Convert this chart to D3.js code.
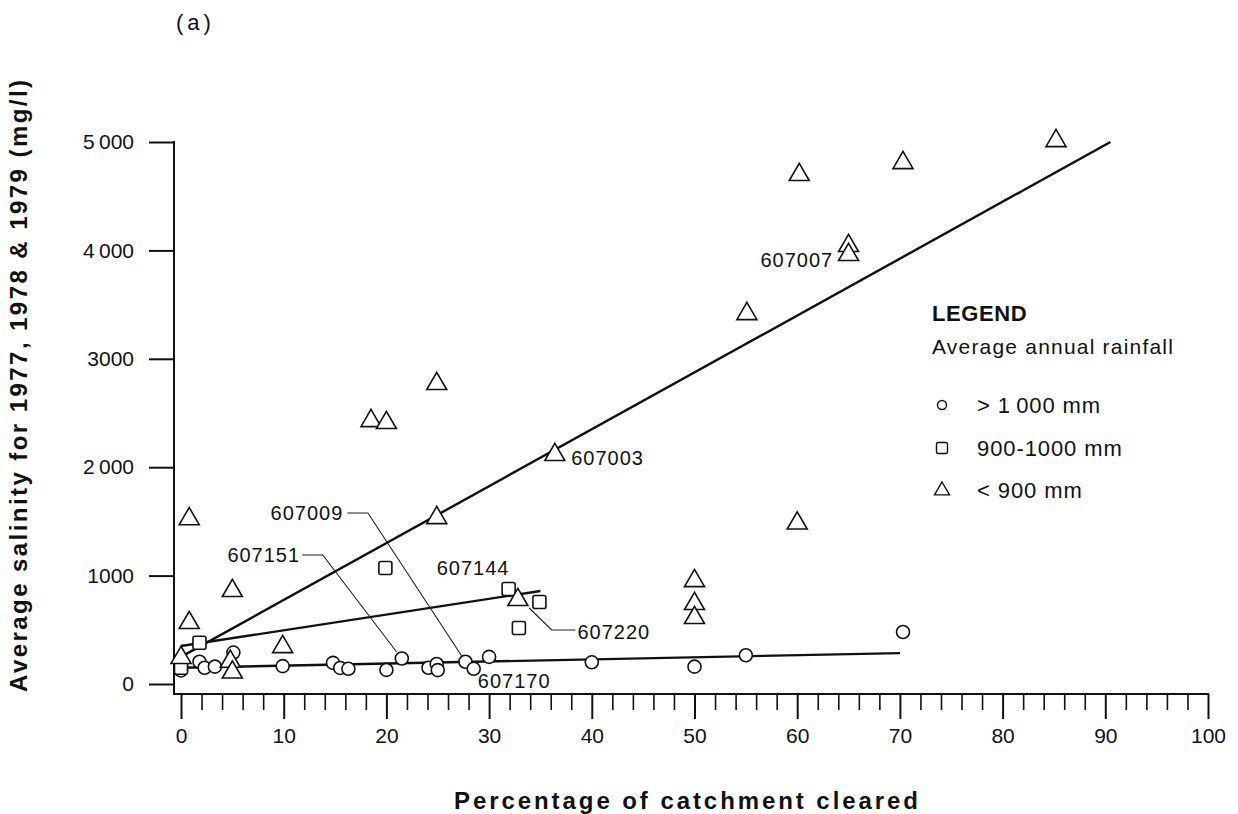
<!DOCTYPE html>
<html>
<head>
<meta charset="utf-8">
<script src="https://cdn.jsdelivr.net/npm/d3@7/dist/d3.min.js"></script>
<style>
  html, body { margin: 0; padding: 0; background: #fff; }
  svg { display: block; }
  text { font-family: "Liberation Sans", Arial, Helvetica, sans-serif; fill: #111; }
</style>
</head>
<body>
<svg id="chart" width="1238" height="814"></svg>
<script>
// Average salinity (mg/l) against percentage of catchment cleared,
// grouped by average annual rainfall.

// > 1000 mm rainfall catchments: [percent cleared, salinity]
const rainHigh = [
  [0, 175], [0, 125], [1.8, 205], [2.3, 150], [3.3, 160], [5.1, 290],
  [9.9, 165], [14.8, 195], [15.5, 148], [16.3, 140], [20.0, 130],
  [21.5, 235], [24.1, 150], [24.9, 185], [25.0, 128], [27.7, 205],
  [28.5, 140], [30.0, 250], [40.0, 200], [50.0, 160], [55.0, 265],
  [70.3, 480]
];
// 900-1000 mm rainfall catchments
const rainMid = [
  [0, 150], [1.8, 380], [19.9, 1070], [31.9, 876], [34.9, 756], [32.9, 516]
];
// < 900 mm rainfall catchments
const rainLow = [
  [0, 250], [0.8, 1530], [0.8, 572], [4.8, 215], [5.0, 115], [5.0, 867],
  [9.9, 350], [18.5, 2435], [20.0, 2417], [24.9, 2777], [24.9, 1540],
  [32.8, 784], [36.4, 2122], [50.0, 959], [50.0, 747], [50.0, 618],
  [55.1, 3422], [60.0, 1490], [60.2, 4705], [65.0, 4050], [65.0, 3967],
  [70.3, 4815], [85.2, 5018]
];

// Fitted trend lines for each rainfall group
const fitHigh = [[0, 150], [70, 285]];
const fitMid = [[0, 350], [35, 858]];
const fitLow = [[0, 250], [90.5, 5000]];

// Axis ticks
const yTicks = [0, 1000, 2000, 3000, 4000, 5000];
const yTickLabels = ["0", "1000", "2\u2009000", "3000", "4\u2009000", "5\u2009000"];
const xMajor = [0, 10, 20, 30, 40, 50, 60, 70, 80, 90, 100];
const xMinor = d3.range(0, 101, 2);

// Station labels: id, anchor position in data units, text anchor
const stationIds = ["607007", "607003", "607009", "607151", "607144", "607170", "607220"];
const stationAt = [[63.5, 3911], [38.0, 2085], [15.8, 1577], [11.6, 1190], [24.9, 1070], [28.9, 28], [38.6, 480]];
const stationAnchor = ["end", "start", "end", "end", "start", "start", "start"];
// Leader lines from labels to their points (data units)
const leaders = [
  [[16.2, 1577], [18.2, 1577], [27.4, 249]],
  [[11.8, 1190], [13.8, 1190], [21.0, 295]],
  [[33.9, 701], [36.1, 498], [38.4, 498]]
];

const legendLabels = ["> 1\u2009000 mm", "900-1000 mm", "< 900 mm"];

const svg = d3.select("#chart");
const x = d3.scaleLinear().domain([0, 100]).range([181, 1208]);
const y = d3.scaleLinear().domain([0, 5000]).range([684, 142]);
const axisX0 = 174, axisY0 = 694;

// Symbol generators
const circlePath = d3.symbol().type(d3.symbolCircle);
function triPath(w) {
  const h = w * 0.86;
  return `M0,${-h * 0.62}L${w / 2},${h * 0.38}L${-w / 2},${h * 0.38}Z`;
}
function sqPath(s) {
  const r = 2;
  const h = s / 2;
  return `M${-h + r},${-h}H${h - r}Q${h},${-h} ${h},${-h + r}V${h - r}Q${h},${h} ${h - r},${h}H${-h + r}Q${-h},${h} ${-h},${h - r}V${-h + r}Q${-h},${-h} ${-h + r},${-h}Z`;
}

// Y axis
const yAxis = d3.axisLeft(y).tickValues(yTicks).tickSize(25).tickPadding(15)
  .tickFormat((d, i) => yTickLabels[i]);
const gy = svg.append("g").attr("transform", `translate(${axisX0},0)`).call(yAxis);
gy.select(".domain").remove();
gy.selectAll(".tick line").attr("stroke", "#111").attr("stroke-width", 2);
gy.selectAll(".tick text").attr("font-size", 21).attr("fill", "#111")
  .style("font-family", '"Liberation Sans", Arial, sans-serif');
svg.append("line").attr("x1", axisX0).attr("x2", axisX0).attr("y1", y(5000) - 1).attr("y2", axisY0)
  .attr("stroke", "#111").attr("stroke-width", 2);

// X axis: minor ticks every 2 %, labelled major ticks every 10 %
const gxMinor = svg.append("g").attr("transform", `translate(0,${axisY0})`)
  .call(d3.axisBottom(x).tickValues(xMinor.filter(v => v % 10 !== 0)).tickSize(16).tickFormat(""));
gxMinor.select(".domain").remove();
gxMinor.selectAll(".tick line").attr("stroke", "#111").attr("stroke-width", 1.6);
const gx = svg.append("g").attr("transform", `translate(0,${axisY0})`)
  .call(d3.axisBottom(x).tickValues(xMajor).tickSize(25).tickPadding(9).tickFormat(d3.format("d")));
gx.select(".domain").remove();
gx.selectAll(".tick line").attr("stroke", "#111").attr("stroke-width", 2);
gx.selectAll(".tick text").attr("font-size", 21).attr("fill", "#111")
  .style("font-family", '"Liberation Sans", Arial, sans-serif');
svg.append("line").attr("x1", axisX0 - 1).attr("x2", x(100) + 1).attr("y1", axisY0).attr("y2", axisY0)
  .attr("stroke", "#111").attr("stroke-width", 2);

// Trend lines
const line = d3.line().x(d => x(d[0])).y(d => y(d[1]));
[fitHigh, fitMid, fitLow].forEach(f => {
  svg.append("path").attr("d", line(f)).attr("fill", "none")
    .attr("stroke", "#111").attr("stroke-width", 2.4);
});

// Leader lines
leaders.forEach(l => {
  svg.append("path").attr("d", line(l)).attr("fill", "none")
    .attr("stroke", "#222").attr("stroke-width", 1.1);
});

// Points
const pts = svg.append("g").attr("fill", "#fff").attr("stroke", "#111").attr("stroke-width", 1.6);
pts.selectAll(".c").data(rainHigh).join("path").attr("class", "c")
  .attr("d", circlePath.size(Math.PI * 6.5 * 6.5))
  .attr("transform", d => `translate(${x(d[0])},${y(d[1])})`);
pts.selectAll(".s").data(rainMid).join("path").attr("class", "s")
  .attr("d", sqPath(13))
  .attr("transform", d => `translate(${x(d[0])},${y(d[1])})`);
pts.selectAll(".t").data(rainLow).join("path").attr("class", "t")
  .attr("d", triPath(20))
  .attr("transform", d => `translate(${x(d[0])},${y(d[1])})`);

// Station labels
svg.append("g").selectAll("text").data(stationIds).join("text")
  .attr("x", (d, i) => x(stationAt[i][0]))
  .attr("y", (d, i) => y(stationAt[i][1]))
  .attr("dy", "0.36em")
  .attr("text-anchor", (d, i) => stationAnchor[i])
  .attr("font-size", 20).attr("letter-spacing", 1)
  .text(d => d);

// Legend
const lg = svg.append("g");
lg.append("text").attr("x", 932).attr("y", 321).attr("font-size", 22).attr("font-weight", "bold")
  .attr("letter-spacing", 0.6).text("LEGEND");
lg.append("text").attr("x", 932).attr("y", 354).attr("font-size", 21).attr("letter-spacing", 1.2)
  .text("Average annual rainfall");
const rows = [405, 448, 490];
const legSym = [circlePath.size(Math.PI * 4.5 * 4.5)(), sqPath(11), triPath(15)];
legendLabels.forEach((t, i) => {
  lg.append("path").attr("d", legSym[i]).attr("transform", `translate(942,${rows[i]})`)
    .attr("fill", "#fff").attr("stroke", "#111").attr("stroke-width", 1.4);
  lg.append("text").attr("x", 977).attr("y", rows[i]).attr("dy", "0.36em")
    .attr("font-size", 22).attr("letter-spacing", 0.9).text(t);
});

// Panel tag and axis titles
svg.append("text").attr("x", 176).attr("y", 30).attr("font-size", 22).attr("letter-spacing", 4).text("(a)");
svg.append("text").attr("x", 686).attr("y", 809).attr("text-anchor", "middle")
  .attr("font-size", 24).attr("font-weight", "bold")
  .attr("textLength", 464).attr("lengthAdjust", "spacing")
  .text("Percentage of catchment cleared");
svg.append("text").attr("transform", "translate(27,386) rotate(-90)").attr("text-anchor", "middle")
  .attr("font-size", 24).attr("font-weight", "bold")
  .attr("textLength", 612).attr("lengthAdjust", "spacing")
  .text("Average salinity for 1977, 1978 & 1979 (mg/l)");
</script>
</body>
</html>
